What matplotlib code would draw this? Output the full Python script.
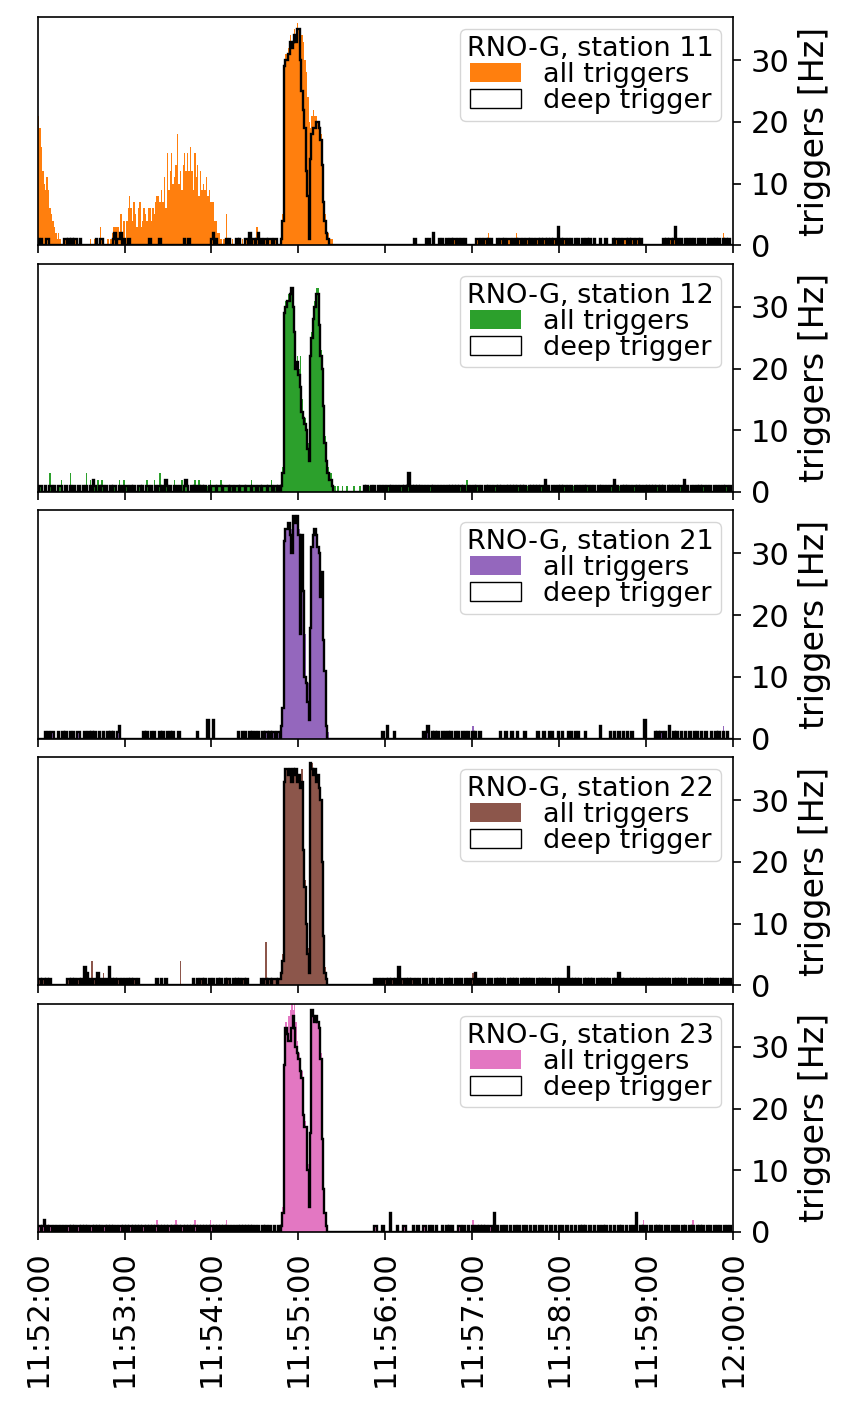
import numpy as np
import matplotlib
matplotlib.use("Agg")
import matplotlib.pyplot as plt
import matplotlib.dates as mdates
from matplotlib.patches import Patch
from datetime import datetime, timedelta

# 1-second bins from 11:52:00 to 12:00:00 (date is arbitrary, only clock time shown)
T0 = datetime(2022, 8, 1, 11, 52, 0)
N_SEC = 480
PEAK_START = 168  # first bin of the tabulated burst (11:54:48)

STATIONS = [11, 12, 21, 22, 23]
COLORS = ["tab:orange", "tab:green", "tab:purple", "tab:brown", "tab:pink"]

# ---- station 11 ----
S11_DEEP_PEAK = [1, 4, 29, 30, 30, 31, 33, 32, 33, 34, 33, 35, 35, 30, 25, 22, 19, 12, 8, 1,
                 14, 18, 19, 19, 20, 20, 19, 17, 13, 7, 4, 2, 1, 0]
S11_ALL_PEAK = [2, 5, 30, 31, 31, 32, 34, 33, 34, 35, 34, 36, 35, 34, 34, 33, 30, 28, 24, 20,
                19, 21, 22, 21, 21, 20, 20, 18, 14, 9, 5, 3, 2, 1, 1, 1]
S11_EARLY_ALL = [20, 19, 15, 12, 10, 9, 10, 8, 6, 5, 4, 3, 2, 1, 2, 1]  # from 11:52:00
S11_BUMP_ALL = [1, 0, 0, 1, 0, 0, 1, 2, 0, 1, 0, 0, 1, 0, 1, 2,            # from 11:52:36
                2, 1, 3, 2, 1, 3, 2, 3, 1, 4,
                5, 7, 6, 4, 7, 5, 3, 6, 7,
                3, 4, 6, 5, 4, 6, 5, 4, 6, 5, 7, 8,
                8, 6, 9, 7, 11, 6, 15, 9, 12, 15, 10, 11, 13, 18, 10, 12, 9, 13, 14, 12,
                15, 11, 16, 12, 9, 15, 11, 13, 8, 12, 9,
                10, 9, 11, 8, 9, 7, 6, 5, 4, 3, 2, 2, 1, 0, 1, 0, 4, 1]
S11_DEEP_NOISE = [0, 2, 6, 7, 18, 19, 21, 23, 25, 26, 29, 40, 43, 44, 52, 53, 53, 55, 56, 57, 57,
                  59, 62, 63, 77, 84, 101, 104, 120, 121, 121, 123, 130, 132, 137, 139,
                  143, 144, 146, 146, 148, 149, 151, 152, 152, 154, 156, 157, 159, 160, 161, 163, 164,
                  260, 268, 270, 273, 273, 277, 279, 282, 285, 287, 288, 290, 292, 293, 295,
                  303, 304, 306, 308, 309, 311, 313, 317, 319, 320, 322, 324, 325, 326, 328, 330,
                  332, 333, 335, 337, 338, 340, 342, 344, 345, 347, 349, 350, 352, 354, 356, 357,
                  359, 359, 359, 361, 363, 364, 366, 368, 371, 373, 376, 379, 381, 384, 388, 392,
                  397, 399, 400, 402, 404, 405, 406, 408, 410, 411, 413, 414, 416,
                  432, 434, 436, 437, 439, 440, 440, 440, 442, 444, 447, 449, 451, 453, 456, 458,
                  460, 463, 466, 468, 470, 473, 475, 477]
S11_EXTRA_NOISE = [134, 141, 147, 150, 151, 151, 153, 158, 283, 311, 330, 448, 473]

# ---- station 12 ----
S12_DEEP_PEAK = [1, 3, 29, 30, 31, 31, 32, 33, 30, 26, 20, 21, 19, 17, 13, 12, 11, 10, 7, 5,
                 22, 25, 28, 30, 32, 32, 27, 22, 20, 14, 8, 5, 3, 2, 2, 1]
S12_ALL_PEAK = [2, 4, 30, 31, 31, 32, 33, 33, 31, 27, 21, 22, 20, 22, 15, 13, 12, 11, 8, 6,
                23, 26, 29, 31, 33, 33, 28, 23, 21, 15, 9, 6, 4, 3, 3, 2, 1]
S12_DEEP_NOISE = [1, 2, 5, 8, 9, 11, 14, 15, 16, 19, 22, 24, 25, 28, 31, 33, 36, 38, 38, 39, 42,
                  44, 45, 47, 50, 52, 53, 56, 58, 60, 61, 64, 66, 69, 70, 72, 75, 76, 78, 81, 83,
                  84, 86, 88, 88, 89, 91, 94, 96, 98, 101, 102, 102, 103, 106, 108, 111, 113, 115,
                  118, 120, 121, 122, 124, 125, 126, 128, 129, 130, 131, 133, 134, 136, 137, 138,
                  140, 141, 142, 144, 145, 146, 148, 149, 150, 152, 153, 155, 156, 157, 159, 160,
                  161, 163, 164, 166,
                  225, 227, 230, 232, 235, 237, 239, 241, 242, 244, 246, 248, 250, 251, 253, 255,
                  256, 256, 256, 258, 260, 262, 264, 266, 268, 270, 271, 273, 275, 277, 279, 281,
                  283, 285, 287, 289, 291, 292, 294, 297, 299, 301, 303, 304, 306, 309, 311, 313,
                  315, 316, 318, 320, 323, 325, 327, 329, 331, 332, 334, 336, 339, 341, 343, 345,
                  347, 348, 350, 350, 352, 355, 357, 359, 361, 363, 364, 366, 368, 371, 373, 375,
                  377, 379, 380, 382, 384, 387, 389, 391, 393, 395, 396, 398, 398, 400, 403, 405,
                  407, 409, 411, 412, 414, 416, 419, 421, 423, 425, 427, 428, 430, 432, 435, 437,
                  439, 441, 443, 444, 446, 446, 448, 451, 453, 455, 457, 459, 460, 462, 464, 467,
                  469, 471, 473, 475, 476, 478]
S12_EXTRA_NOISE = [4, 8, 8, 16, 22, 22, 27, 33, 33, 36, 41, 41, 44, 51, 56, 59, 59, 62, 67, 71,
                   75, 77, 80, 80, 84, 84, 89, 94, 97, 99, 99, 105, 108, 111, 114, 117, 119, 119,
                   126, 132, 135, 139, 143, 147, 147, 151, 158, 161, 165, 167, 205, 207, 210, 213,
                   218, 222, 226, 229, 234, 238, 243, 247, 252, 254, 259, 263, 269, 274, 278, 280,
                   284, 288, 293, 296, 296, 300, 305, 308, 312, 317, 321, 326, 330, 335, 338, 342,
                   346, 349, 353, 358, 362, 367, 370, 374, 378, 383, 386, 390, 394, 397, 401, 406,
                   410, 413, 418, 422, 426, 429, 433, 436, 440, 445, 449, 452, 456, 461, 465, 468,
                   472, 477]

# ---- station 21 ----
S21_DEEP_PEAK = [2, 5, 32, 34, 34, 35, 33, 30, 36, 36, 35, 36, 33, 17, 33, 24, 10, 9, 6, 3,
                 18, 31, 33, 34, 33, 31, 30, 23, 27, 16, 11, 2, 0]
S21_ALL_PEAK = [2, 5, 32, 34, 34, 35, 34, 34, 36, 36, 35, 36, 34, 33, 33, 25, 17, 10, 9, 8,
                18, 31, 33, 34, 33, 31, 30, 27, 27, 17, 11, 3, 1]
S21_DEEP_NOISE = [5, 7, 9, 10, 14, 17, 19, 22, 24, 27, 28, 32, 35, 37, 39, 42, 45, 48, 50, 52,
                  55, 56, 56, 73, 75, 78, 80, 84, 86, 89, 91, 93, 97, 110, 117, 117, 117, 121,
                  121, 121, 138, 141, 143, 146, 148, 150, 152, 155, 157, 158, 160, 162, 163, 165,
                  166, 238, 241, 241, 246, 266, 268, 269, 269, 272, 274, 276, 279, 281, 283, 285,
                  288, 290, 293, 295, 297, 300, 302, 305, 319, 323, 327, 331, 336, 345, 349, 353,
                  355, 359, 362, 366, 368, 371, 373, 378, 388, 388, 395, 398, 401, 404, 407, 410,
                  419, 419, 419, 426, 428, 430, 431, 433, 436, 436, 439, 441, 444, 447, 450, 453,
                  455, 458, 461, 465, 468, 470, 473, 476]
S21_EXTRA_NOISE = [282, 300, 427, 473]

# ---- station 22 ----
S22_DEEP_PEAK = [2, 4, 33, 35, 35, 34, 35, 33, 35, 34, 35, 33, 34, 32, 33, 22, 16, 10, 5, 2,
                 36, 35, 34, 35, 33, 34, 32, 30, 20, 8, 2, 1, 0]
S22_ALL_PEAK = [3, 5, 34, 35, 35, 35, 35, 34, 35, 35, 35, 34, 34, 33, 35, 23, 17, 11, 6, 3,
                36, 36, 35, 35, 34, 34, 33, 30, 21, 9, 3, 1, 0]
S22_DEEP_NOISE = [0, 1, 3, 4, 6, 8, 20, 21, 23, 25, 27, 28, 30, 32, 32, 32, 34, 34, 36, 38, 39,
                  41, 41, 43, 45, 47, 49, 49, 49, 51, 53, 55, 56, 58, 60, 62, 64, 66, 67, 69, 82,
                  85, 88, 107, 110, 112, 113, 115, 118, 119, 121, 124, 126, 129, 131, 132, 135,
                  137, 139, 141, 142, 144, 154, 156, 157, 159, 160, 162, 163, 164, 166, 167,
                  232, 234, 235, 237, 239, 240, 242, 244, 245, 247, 249, 249, 249, 251, 252, 254,
                  256, 258, 259, 261, 263, 266, 268, 271, 273, 276, 278, 281, 283, 285, 288, 290,
                  292, 295, 297, 299, 300, 302, 302, 304, 306, 308, 311, 313, 316, 318, 320, 322,
                  325, 327, 329, 331, 334, 336, 338, 340, 342, 345, 347, 349, 351, 353, 356, 358,
                  360, 362, 364, 366, 366, 366, 368, 370, 372, 374, 377, 379, 381, 383, 386, 388,
                  390, 392, 394, 397, 399, 401, 401, 403, 405, 408, 410, 412, 414, 416, 419, 421,
                  423, 425, 428, 430, 432, 434, 436, 439, 441, 443, 445, 447, 450, 452, 454, 456,
                  458, 461, 463, 465, 467, 469, 472, 474, 476, 478]
S22_EXTRA_NOISE = [37, 37, 37, 37, 45, 98, 98, 98, 98, 120, 157, 157, 157, 157, 157, 157,
                   300, 350, 420]

# ---- station 23 ----
S23_DEEP_PEAK = [1, 3, 27, 33, 32, 31, 31, 33, 35, 33, 30, 29, 28, 26, 25, 19, 17, 17, 10, 4,
                 16, 36, 35, 34, 35, 34, 33, 28, 15, 7, 3, 1, 0]
S23_ALL_PEAK = [2, 4, 28, 34, 33, 35, 36, 37, 36, 37, 34, 31, 29, 27, 26, 20, 18, 17, 11, 5,
                17, 36, 35, 35, 35, 34, 33, 29, 16, 8, 3, 1, 0]
S23_DEEP_NOISE = [0, 1, 3, 4, 4, 6, 8, 9, 11, 13, 14, 16, 18, 20, 21, 23, 25, 27, 28, 30, 32,
                  34, 36, 37, 39, 41, 43, 45, 46, 48, 50, 52, 54, 56, 57, 59, 61, 63, 64, 66, 68,
                  70, 72, 73, 75, 77, 79, 81, 82, 84, 86, 88, 90, 91, 93, 95, 97, 99, 100, 102,
                  104, 106, 108, 109, 111, 113, 115, 117, 119, 120, 122, 124, 126, 128, 130, 132,
                  134, 136, 138, 140, 142, 144, 146, 148, 150, 152, 155, 157, 160, 163, 166,
                  232, 233, 238, 243, 243, 243, 248, 252, 253, 259, 262, 266, 267, 270, 272, 275,
                  279, 282, 284, 286, 290, 291, 294, 297, 300, 303, 305, 307, 309, 312, 313, 315,
                  315, 315, 317, 320, 323, 326, 329, 332, 335, 337, 340, 343, 346, 348, 351, 354,
                  357, 360, 362, 365, 368, 371, 374, 376, 378, 381, 384, 387, 390, 392, 395, 398,
                  401, 403, 406, 409, 411, 413, 413, 413, 416, 418, 420, 423, 426, 428, 430, 433,
                  435, 438, 440, 442, 445, 447, 450, 452, 455, 457, 459, 462, 464, 467, 469, 471,
                  474, 476, 478]
S23_EXTRA_NOISE = [2, 15, 22, 40, 58, 82, 95, 108, 119, 130, 147, 271, 300, 330,
                   355, 400, 418, 452, 460]


def counts(seconds):
    return np.bincount(np.asarray(seconds, dtype=int), minlength=N_SEC)[:N_SEC].astype(float)


def station_series(deep_noise, extra_noise, deep_peak, all_peak, blocks=()):
    deep = counts(deep_noise)
    allt = deep + counts(extra_noise)
    for start, vals in blocks:
        allt[start:start + len(vals)] += np.asarray(vals, dtype=float)
    deep[PEAK_START:PEAK_START + len(deep_peak)] = deep_peak
    allt[PEAK_START:PEAK_START + len(all_peak)] = all_peak
    return allt, deep


SERIES = [
    station_series(S11_DEEP_NOISE, S11_EXTRA_NOISE, S11_DEEP_PEAK, S11_ALL_PEAK,
                   blocks=[(0, S11_EARLY_ALL), (36, S11_BUMP_ALL)]),
    station_series(S12_DEEP_NOISE, S12_EXTRA_NOISE, S12_DEEP_PEAK, S12_ALL_PEAK),
    station_series(S21_DEEP_NOISE, S21_EXTRA_NOISE, S21_DEEP_PEAK, S21_ALL_PEAK),
    station_series(S22_DEEP_NOISE, S22_EXTRA_NOISE, S22_DEEP_PEAK, S22_ALL_PEAK),
    station_series(S23_DEEP_NOISE, S23_EXTRA_NOISE, S23_DEEP_PEAK, S23_ALL_PEAK),
]

edges = mdates.date2num([T0 + timedelta(seconds=i) for i in range(N_SEC + 1)])

fig, axes = plt.subplots(5, 1, figsize=(8.58, 14.12), dpi=100, sharex=True)
fig.subplots_adjust(left=0.044, right=0.854, top=0.988, bottom=0.1275, hspace=0.08)

for ax, st, c, (allt, deep) in zip(axes, STATIONS, COLORS, SERIES):
    ax.stairs(allt, edges, fill=True, color=c, lw=0)
    ax.stairs(deep, edges, color="k", lw=1.7)
    ax.set_xlim(edges[0], edges[-1])
    ax.set_ylim(0, 37)
    ax.set_yticks([0, 10, 20, 30])
    ax.yaxis.tick_right()
    ax.yaxis.set_label_position("right")
    ax.set_ylabel("triggers [Hz]", fontsize=24, labelpad=6)
    ax.tick_params(labelsize=22, length=6, width=1.2, pad=7)
    for sp in ax.spines.values():
        sp.set_linewidth(1.2)
    handles = [Patch(facecolor=c, edgecolor="none", label="all triggers"),
               Patch(facecolor="white", edgecolor="k", label="deep trigger")]
    ax.legend(handles=handles, title=f"RNO-G, station {st}", loc="upper right",
              fontsize=19.5, title_fontsize=19.5, labelspacing=0.0, borderpad=0.25,
              borderaxespad=0.45, handletextpad=0.8, handlelength=1.9)

ax = axes[-1]
ax.xaxis.set_major_locator(mdates.MinuteLocator())
ax.xaxis.set_major_formatter(mdates.DateFormatter("%H:%M:%S"))
for lbl in ax.get_xticklabels():
    lbl.set_rotation(90)
    lbl.set_fontsize(22)

fig.savefig("out.png", dpi=100)
